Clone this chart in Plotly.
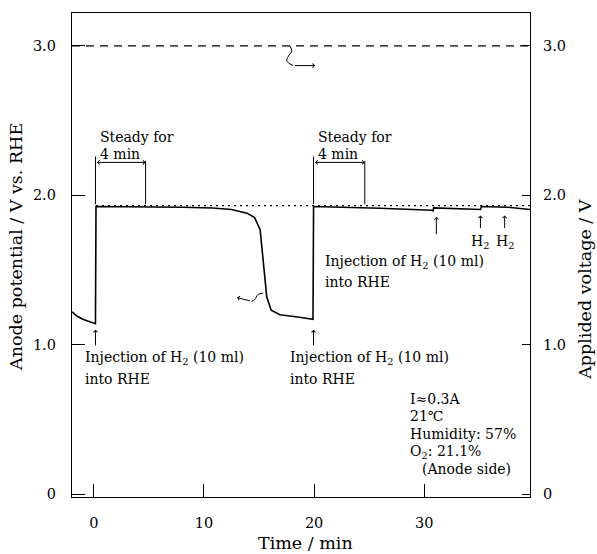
import plotly.graph_objects as go

# ---------------- data ----------------
time_min = [-1.98, -1.5, -1.0, -0.5, 0.0, 0.15, 0.2, 1.0, 5.0, 8.0, 10.8, 12.5, 13.9, 14.6,
            15.1, 15.4, 15.7, 16.1, 16.9, 18.5, 19.9, 19.95, 22.0, 26.0, 30.7, 30.8, 30.85,
            33.0, 35.1, 35.2, 37.5, 39.6]
anode_potential = [1.22, 1.19, 1.17, 1.155, 1.145, 1.14, 1.925, 1.925, 1.925, 1.92, 1.915, 1.905,
                   1.88, 1.85, 1.77, 1.55, 1.32, 1.23, 1.20, 1.185, 1.17, 1.925, 1.922, 1.913,
                   1.90, 1.895, 1.915, 1.91, 1.905, 1.925, 1.92, 1.905]

applied_voltage_x = [-1.98, 39.6]
applied_voltage = [3.0, 3.0]

steady_ref_x = [0.2, 39.6]
steady_ref = [1.93, 1.93]

steady_start = [0.15, 19.95]
steady_end = [4.7, 24.6]
steady_bar_bottom = 1.94
steady_bar_top = 2.26
steady_arrow_y = 2.22

injection_x = [0.15, 19.95]
injection_arrow_top = 1.10
injection_arrow_bottom = 0.985

later_injection_x = 31.1
h2_x = [35.1, 37.3]

curl_low_x = [15.35, 14.9, 14.6, 14.3, 13.0]
curl_low_y = [1.345, 1.335, 1.30, 1.29, 1.315]
curl_top_x = [17.8, 17.97, 17.66, 17.52, 18.1, 20.1]
curl_top_y = [3.0, 2.965, 2.93, 2.897, 2.868, 2.868]

y_ticks = [0, 1.0, 2.0, 3.0]
y_tick_labels = ["0", "1.0", "2.0", "3.0"]
x_ticks = [0, 10, 20, 30]

FONT = "DejaVu Serif"
TXT = 14
fig = go.Figure()

def line(x, y, dash="solid", width=1.3, shape="linear"):
    fig.add_trace(go.Scatter(x=x, y=y, mode="lines", line=dict(color="black", width=width, dash=dash, shape=shape),
                             showlegend=False, hoverinfo="skip"))

line(time_min, anode_potential, width=1.6)
line(applied_voltage_x, applied_voltage, dash="8px,6px", width=1.2)
line(steady_ref_x, steady_ref, dash="2px,4px", width=1.2)

vx, vy = [], []
for a, b in zip(steady_start, steady_end):
    vx += [a, a, None, b, b, None]
    vy += [steady_bar_bottom, steady_bar_top, None, steady_bar_bottom, steady_bar_top - 0.03, None]
line(vx, vy, width=1.0)

line(curl_low_x[:-1], curl_low_y[:-1], width=1.0, shape="spline")
line(curl_top_x[:-1], curl_top_y[:-1], width=1.0, shape="spline")

ann = []
def arrow(x0, y0, x1, y1, both=False, head=4, size=0.8):
    ann.append(dict(x=x1, y=y1, ax=x0, ay=y0, xref="x", yref="y", axref="x", ayref="y",
                    showarrow=True, arrowhead=head, startarrowhead=head, arrowsize=size,
                    startarrowsize=size, arrowwidth=1.0, arrowcolor="black",
                    arrowside="end+start" if both else "end", text=""))

def text(x, y, s, size=TXT, xanchor="left"):
    ann.append(dict(x=x, y=y, xref="x", yref="y", text=s, showarrow=False, xanchor=xanchor,
                    yanchor="middle", font=dict(family=FONT, size=size, color="black")))

for a, b in zip(steady_start, steady_end):
    arrow(a, steady_arrow_y, b, steady_arrow_y, both=True)
    text(a + 0.25, 2.39, "Steady for")
    text(a + 0.25, 2.275, "4 min")

for xi in injection_x:
    arrow(xi, injection_arrow_bottom, xi, injection_arrow_top)

text(-1.0, 0.91, "Injection of H<sub>2</sub> (10 ml)")
text(-1.0, 0.77, "into RHE")
text(17.6, 0.91, "Injection of H<sub>2</sub> (10 ml)")
text(17.6, 0.77, "into RHE")
text(20.8, 1.55, "Injection of H<sub>2</sub> (10 ml)")
text(20.8, 1.42, "into RHE")

arrow(later_injection_x, 1.73, later_injection_x, 1.855)
for hx in h2_x:
    arrow(hx, 1.77, hx, 1.865)
    text(hx, 1.69, "H<sub>2</sub>", xanchor="center")

arrow(curl_low_x[-2], curl_low_y[-2], curl_low_x[-1], curl_low_y[-1])
arrow(curl_top_x[-2], curl_top_y[-2], curl_top_x[-1], curl_top_y[-1])

text(28.5, 0.636, "I\u22480.3A")
text(28.5, 0.522, "21\u2103")
text(28.5, 0.402, "Humidity: 57%")
text(28.5, 0.281, "O<sub>2</sub>: 21.1%")
text(29.6, 0.167, "(Anode side)")

TITLE = dict(family=FONT, size=17.5, color="black")
ann.append(dict(x=-0.122, y=0.517, xref="paper", yref="paper", text="Anode potential / V vs. RHE",
                textangle=-90, showarrow=False, font=TITLE, xanchor="center", yanchor="middle"))
ann.append(dict(x=1.12, y=0.43, xref="paper", yref="paper", text="Applided voltage / V",
                textangle=-90, showarrow=False, font=TITLE, xanchor="center", yanchor="middle"))
ann.append(dict(x=0.509, y=-0.095, xref="paper", yref="paper", text="Time / min",
                showarrow=False, font=TITLE, xanchor="center", yanchor="middle"))

TICKF = dict(family=FONT, size=14.5, color="black")
fig.update_layout(
    width=597, height=554,
    margin=dict(l=72, r=67, t=13, b=57),
    paper_bgcolor="white", plot_bgcolor="white",
    font=dict(family=FONT, size=TXT, color="black"),
    annotations=ann,
    xaxis=dict(range=[-1.98, 39.6], tickvals=x_ticks, ticktext=[str(t) for t in x_ticks],
               ticks="inside", ticklen=13, tickcolor="black", tickwidth=1.2,
               showline=True, linecolor="black", linewidth=1.3, mirror=True,
               showgrid=False, zeroline=False, ticklabelstandoff=12, tickfont=TICKF),
    yaxis=dict(range=[-0.02, 3.22], tickvals=y_ticks, ticktext=y_tick_labels,
               ticks="inside", ticklen=13, tickcolor="black", tickwidth=1.2,
               showline=True, linecolor="black", linewidth=1.3, mirror=True,
               showgrid=False, zeroline=False, ticklabelstandoff=12, tickfont=TICKF),
    yaxis2=dict(range=[-0.02, 3.22], tickvals=y_ticks, ticktext=y_tick_labels,
                overlaying="y", side="right", ticks="inside", ticklen=8,
                tickcolor="black", tickwidth=1.2, showline=False, showgrid=False,
                zeroline=False, ticklabelstandoff=12, tickfont=TICKF),
)
fig.add_trace(go.Scatter(x=[None], y=[None], yaxis="y2", showlegend=False, hoverinfo="skip"))

fig.write_html("out.html")
